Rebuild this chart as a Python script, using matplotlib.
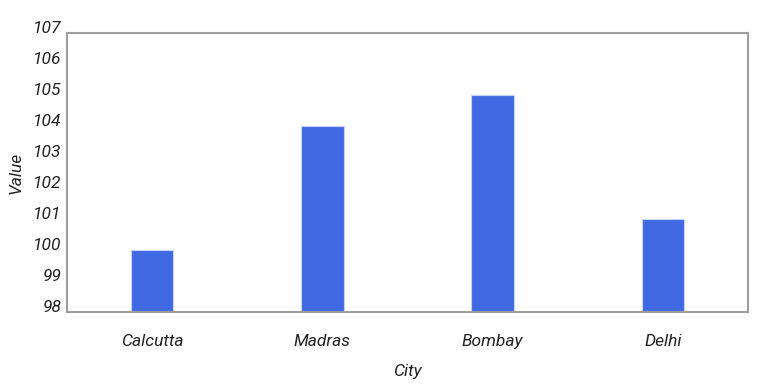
import matplotlib.pyplot as plt

cities = ["Calcutta", "Madras", "Bombay", "Delhi"]
values = [100, 104, 105, 101]
y_ticks = [98, 99, 100, 101, 102, 103, 104, 105, 106, 107]

plt.rcParams["font.family"] = ["Roboto", "DejaVu Sans"]

fig = plt.figure(figsize=(7.72, 3.88), dpi=100)
ax = fig.add_axes([67 / 772, 1 - 312 / 388, 681 / 772, 279 / 388])

x = range(len(cities))
ax.bar(x, values, width=0.25, bottom=0, color="#4169e1",
       edgecolor="#c6d2f7", linewidth=0.8, zorder=1)
ax.set_xlim(-0.5, len(cities) - 0.5)
ax.set_ylim(98, 107)

ax.set_yticks(y_ticks)
ax.set_yticklabels([str(t) for t in y_ticks], fontsize=12.5, style="italic",
                   color="#222222", va="baseline")
ax.set_xticks(list(x))
ax.set_xticklabels(cities, fontsize=12.5, style="italic", color="#222222")
ax.tick_params(axis="both", length=0)
ax.tick_params(axis="x", pad=16)
ax.tick_params(axis="y", pad=4)

for s in ax.spines.values():
    s.set_color("#9e9e9e")
    s.set_linewidth(1.5)
    s.set_zorder(3)

ax.set_xlabel("City", fontsize=12.5, style="italic", color="#222222", va="center")
ax.set_ylabel("Value", fontsize=12.5, style="italic", color="#222222", va="center")
ax.xaxis.set_label_coords(0.5, -0.215)
ax.yaxis.set_label_coords(-0.075, 0.5)

fig.savefig("out.png", dpi=100)
plt.close(fig)
